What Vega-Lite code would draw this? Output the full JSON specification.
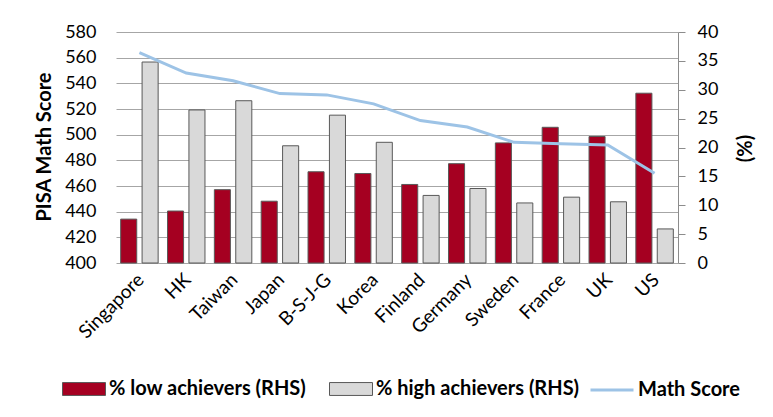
{
  "$schema": "https://vega.github.io/schema/vega-lite/v6.json",
  "width": 562,
  "height": 231,
  "autosize": {"type": "none"},
  "padding": {"left": 116, "top": 32, "right": 95, "bottom": 154},
  "background": "white",
  "config": {
    "view": {"stroke": null},
    "font": "Lato",
    "axis": {"labelFont": "Lato", "titleFont": "Lato", "labelColor": "#000000", "titleColor": "#000000"}
  },
  "data": {
    "values": [
      {"country": "Singapore", "low": 7.6, "high": 34.8, "score": 564},
      {"country": "HK", "low": 9.0, "high": 26.5, "score": 548},
      {"country": "Taiwan", "low": 12.7, "high": 28.1, "score": 542},
      {"country": "Japan", "low": 10.7, "high": 20.3, "score": 532},
      {"country": "B-S-J-G", "low": 15.8, "high": 25.6, "score": 531},
      {"country": "Korea", "low": 15.5, "high": 20.9, "score": 524},
      {"country": "Finland", "low": 13.6, "high": 11.7, "score": 511},
      {"country": "Germany", "low": 17.2, "high": 12.9, "score": 506},
      {"country": "Sweden", "low": 20.8, "high": 10.4, "score": 494},
      {"country": "France", "low": 23.5, "high": 11.4, "score": 493},
      {"country": "UK", "low": 21.9, "high": 10.6, "score": 492},
      {"country": "US", "low": 29.4, "high": 5.9, "score": 470}
    ]
  },
  "layer": [
    {
      "transform": [{"fold": ["low", "high"], "as": ["series", "pct"]}],
      "mark": {"type": "bar", "stroke": "#595959", "strokeWidth": 1},
      "encoding": {
        "x": {
          "field": "country", "type": "nominal", "sort": null,
          "scale": {"paddingInner": 0.2, "paddingOuter": 0.1},
          "axis": {"title": null, "labelAngle": -45, "labelFontSize": 19, "ticks": false, "domain": false, "labelPadding": 7, "labelOffset": -5}
        },
        "xOffset": {"field": "series", "type": "nominal", "sort": ["low", "high"], "scale": {"paddingInner": 0.25}},
        "y": {
          "field": "pct", "type": "quantitative",
          "scale": {"domain": [0, 40], "nice": false},
          "axis": {
            "orient": "right", "title": "(%)", "titleAngle": 270, "titleFontSize": 20, "titleFontWeight": "bold",
            "titleX": 67, "titleY": 116, "titleAlign": "center", "titleBaseline": "middle",
            "values": [0, 5, 10, 15, 20, 25, 30, 35, 40], "grid": false, "labelFontSize": 18,
            "domain": true, "domainColor": "#8c8c8c", "tickColor": "#8c8c8c", "tickSize": 7, "labelPadding": 12
          }
        },
        "color": {
          "field": "series", "type": "nominal",
          "scale": {"domain": ["low", "high"], "range": ["#a50021", "#d9d9d9"]},
          "legend": {
            "title": null, "orient": "none", "direction": "horizontal", "legendX": -54, "legendY": 335,
            "labelExpr": "datum.label == 'low' ? '% low achievers (RHS)' : '% high achievers (RHS)'",
            "labelFont": "Lato", "labelFontSize": 20, "labelFontWeight": "bold", "labelColor": "#000000", "labelLimit": 0,
            "labelOffset": 3, "columnPadding": 20, "symbolSize": 1849,
            "symbolType": "M-1,-0.3H1V0.3H-1Z", "symbolStrokeColor": "#595959", "symbolStrokeWidth": 1, "symbolOpacity": 1
          }
        }
      }
    },
    {
      "mark": {"type": "line", "strokeWidth": 3},
      "encoding": {
        "x": {"field": "country", "type": "nominal", "sort": null},
        "y": {
          "field": "score", "type": "quantitative",
          "scale": {"domain": [400, 580], "nice": false, "zero": false},
          "axis": {
            "orient": "left", "title": "PISA Math Score", "titleFontSize": 20, "titleFontWeight": "bold",
            "titleX": -71.5, "titleY": 114.5, "titleAlign": "center", "titleBaseline": "middle", "titleAngle": 270,
            "values": [400, 420, 440, 460, 480, 500, 520, 540, 560, 580], "grid": true, "gridColor": "#a6a6a6", "gridWidth": 1,
            "domain": false, "ticks": false, "labelFontSize": 18, "labelPadding": 20
          }
        },
        "stroke": {
          "datum": "Math Score",
          "scale": {"domain": ["Math Score"], "range": ["#9dc3e6"]},
          "legend": {
            "title": null, "orient": "none", "direction": "horizontal", "legendX": 473, "legendY": 335,
            "labelFont": "Lato", "labelFontSize": 20, "labelFontWeight": "bold", "labelColor": "#000000", "labelLimit": 0,
            "labelOffset": 3, "symbolSize": 1849, "symbolType": "stroke", "symbolStrokeWidth": 3
          }
        }
      }
    }
  ],
  "resolve": {"scale": {"y": "independent"}}
}
